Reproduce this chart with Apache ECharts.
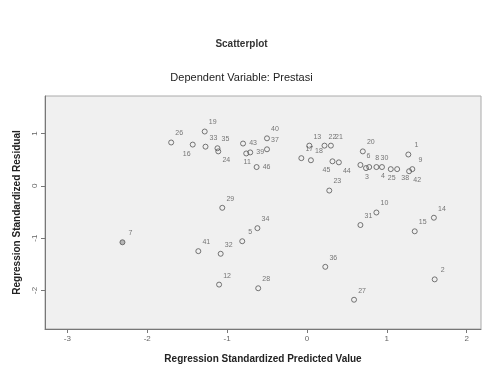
<!DOCTYPE html>
<html><head><meta charset="utf-8">
<script src="https://cdn.jsdelivr.net/npm/echarts@6/dist/echarts.min.js"></script>
<style>html,body{margin:0;padding:0;background:#fff}#c{width:483px;height:369px}</style>
</head><body><div id="c"></div>
<script>
// Case numbers, standardized predicted value (x), standardized residual (y)
const caseIds   = [1,2,3,4,5,6,7,8,9,10,11,12,13,14,15,16,17,18,19,20,21,22,23,24,25,26,27,28,29,30,31,32,33,34,35,36,37,38,39,40,41,42,43,44,45,46];
const predicted = [1.27,1.60,0.74,0.94,-0.81,0.67,-2.31,0.78,1.32,0.87,-0.76,-1.10,0.03,1.59,1.35,-1.43,-0.07,0.05,-1.28,0.70,0.30,0.22,0.28,-1.11,1.05,-1.70,0.59,-0.61,-1.06,0.87,0.67,-1.08,-1.27,-0.62,-1.12,0.23,-0.50,1.13,-0.71,-0.50,-1.36,1.28,-0.80,0.40,0.32,-0.63];
const residual  = [0.60,-1.79,0.34,0.36,-1.06,0.40,-1.08,0.36,0.32,-0.51,0.62,-1.89,0.77,-0.61,-0.87,0.79,0.53,0.49,1.04,0.66,0.77,0.77,-0.09,0.66,0.32,0.83,-2.18,-1.96,-0.42,0.36,-0.75,-1.30,0.75,-0.81,0.72,-1.55,0.70,0.32,0.64,0.91,-1.25,0.28,0.81,0.45,0.47,0.36];
const xTicks = [-3,-2,-1,0,1,2];
const yTicks = [-2,-1,0,1];

// label placement styles (offset of label centre from marker)
const placeOffsets = {tr:[8,-9], bl:[-6,9], bottom:[1,9], br:[8,9], right:[10,0]};
const labelPlace = {3:'bottom',4:'bottom',11:'bottom',16:'bl',24:'br',25:'bottom',38:'br',39:'right',42:'br',43:'right',44:'br',45:'bl',46:'right'};
const highlighted = {7:true};

const data = caseIds.map((id,i)=>({
  value:[predicted[i], residual[i], id],
  itemStyle: highlighted[id] ? {color:'#a8a8a8'} : undefined,
  label:{offset: placeOffsets[labelPlace[id]||'tr']}
}));

const font = '"Liberation Sans", Arial, sans-serif';
const chart = echarts.init(document.getElementById('c'), null, {renderer:'canvas'});
chart.setOption({
  animation:false,
  backgroundColor:'#fff',
  title:[
    {text:'Scatterplot', left:'center', top:34, textStyle:{fontFamily:font, fontSize:10, fontWeight:'bold', color:'#333'}},
    {text:'Dependent Variable: Prestasi', left:'center', top:67, textStyle:{fontFamily:font, fontSize:11, fontWeight:'normal', color:'#222'}}
  ],
  grid:{left:45, right:2, top:96, bottom:37, show:true, backgroundColor:'#f0f0f0', borderColor:'#aaa', borderWidth:1},
  xAxis:{
    type:'value', min:-3.28, max:2.18,
    name:'Regression Standardized Predicted Value', nameLocation:'middle', nameGap:25,
    nameTextStyle:{fontFamily:font, fontSize:10, fontWeight:'bold', color:'#222'},
    axisLine:{show:true, onZero:false, lineStyle:{color:'#777'}},
    axisTick:{show:true, length:4, customValues:xTicks, lineStyle:{color:'#777'}},
    axisLabel:{customValues:xTicks, fontFamily:font, fontSize:8, color:'#666', margin:6},
    splitLine:{show:false}
  },
  yAxis:{
    type:'value', min:-2.74, max:1.72,
    name:'Regression Standardized Residual', nameLocation:'middle', nameGap:23, nameRotate:90,
    nameTextStyle:{fontFamily:font, fontSize:10, fontWeight:'bold', color:'#222'},
    axisLine:{show:true, onZero:false, lineStyle:{color:'#777'}},
    axisTick:{show:true, length:4, customValues:yTicks, lineStyle:{color:'#777'}},
    axisLabel:{customValues:yTicks, rotate:90, fontFamily:font, fontSize:8, color:'#666', margin:6},
    splitLine:{show:false}
  },
  series:[{
    type:'scatter', symbol:'circle', symbolSize:5,
    itemStyle:{color:'rgba(0,0,0,0)', borderColor:'#555', borderWidth:1},
    label:{show:true, position:'inside', formatter:p=>String(p.value[2]), fontFamily:font, fontSize:7, color:'#555'},
    emphasis:{disabled:true},
    data:data
  }]
});
</script></body></html>
